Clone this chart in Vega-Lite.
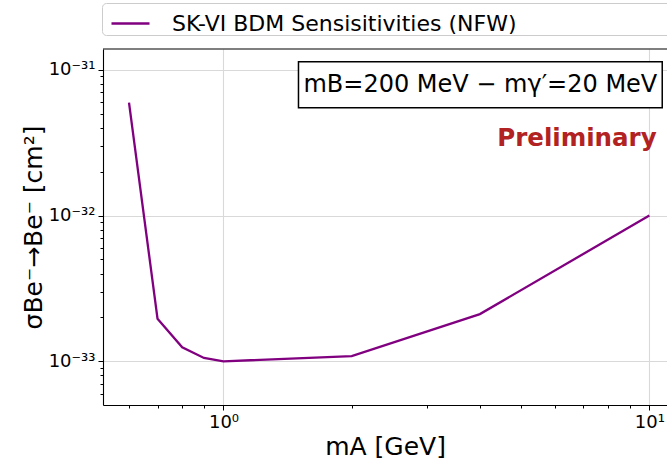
{
  "$schema": "https://vega.github.io/schema/vega-lite/v6.json",
  "autosize": "none",
  "width": 564,
  "height": 356,
  "padding": {"left": 103, "top": 49, "right": 0, "bottom": 60},
  "background": "white",
  "config": {
    "font": "DejaVu Sans",
    "view": {"stroke": null},
    "axis": {"labelFont": "DejaVu Sans", "titleFont": "DejaVu Sans", "labelColor": "black", "titleColor": "black", "domainColor": "black", "tickColor": "black", "titleFontWeight": "normal"}
  },
  "datasets": {
    "curve": [
      {"mA": 0.6, "sigma": 5.94e-32, "series": "SK-VI BDM Sensisitivities (NFW)"},
      {"mA": 0.7, "sigma": 1.96e-33, "series": "SK-VI BDM Sensisitivities (NFW)"},
      {"mA": 0.8, "sigma": 1.25e-33, "series": "SK-VI BDM Sensisitivities (NFW)"},
      {"mA": 0.9, "sigma": 1.055e-33, "series": "SK-VI BDM Sensisitivities (NFW)"},
      {"mA": 1.0, "sigma": 1.0e-33, "series": "SK-VI BDM Sensisitivities (NFW)"},
      {"mA": 2.0, "sigma": 1.087e-33, "series": "SK-VI BDM Sensisitivities (NFW)"},
      {"mA": 4.0, "sigma": 2.11e-33, "series": "SK-VI BDM Sensisitivities (NFW)"},
      {"mA": 10.0, "sigma": 1.0e-32, "series": "SK-VI BDM Sensisitivities (NFW)"}
    ]
  },
  "layer": [
    {
      "data": {"name": "curve"},
      "mark": {"type": "line", "strokeWidth": 2.3, "clip": true},
      "encoding": {
        "x": {
          "field": "mA", "type": "quantitative",
          "scale": {"type": "log", "domain": [0.5213, 11.0], "nice": false},
          "axis": {
            "title": "mA [GeV]",
            "titleFontSize": 25,
            "titlePadding": 3,
            "labelFontSize": 18,
            "labelPadding": 3,
            "values": [0.6, 0.7, 0.8, 0.9, 1, 2, 3, 4, 5, 6, 7, 8, 9, 10],
            "labelExpr": "abs(datum.value - 1) < 0.001 ? '10⁰' : abs(datum.value - 10) < 0.001 ? '10¹' : ''",
            "tickSize": {"condition": {"test": "abs(datum.value - 1) < 0.001 || abs(datum.value - 10) < 0.001", "value": 5}, "value": 3},
            "tickWidth": 1,
            "grid": true,
            "gridColor": "#d9d9d9",
            "gridWidth": 1.1,
            "gridOpacity": {"condition": {"test": "abs(datum.value - 1) < 0.001 || abs(datum.value - 10) < 0.001", "value": 1}, "value": 0},
            "domainWidth": 1.1
          }
        },
        "y": {
          "field": "sigma", "type": "quantitative",
          "scale": {"type": "log", "domain": [5.02e-34, 1.387e-31], "nice": false},
          "axis": {
            "title": "σBe⁻→Be⁻ [cm²]",
            "titleFontSize": 25,
            "titlePadding": 2,
            "labelFontSize": 18,
            "labelPadding": 3,
            "values": [6e-34, 7e-34, 8e-34, 9e-34, 1e-33, 2e-33, 3e-33, 4e-33, 5e-33, 6e-33, 7e-33, 8e-33, 9e-33, 1e-32, 2e-32, 3e-32, 4e-32, 5e-32, 6e-32, 7e-32, 8e-32, 9e-32, 1e-31],
            "labelExpr": "abs(log(datum.value)/LN10 - round(log(datum.value)/LN10)) > 0.01 ? '' : round(log(datum.value)/LN10) == -31 ? '10⁻³¹' : round(log(datum.value)/LN10) == -32 ? '10⁻³²' : '10⁻³³'",
            "tickSize": {"condition": {"test": "abs(log(datum.value)/LN10 - round(log(datum.value)/LN10)) < 0.01", "value": 5}, "value": 3},
            "tickWidth": 1,
            "grid": true,
            "gridColor": "#d9d9d9",
            "gridWidth": 1.1,
            "gridOpacity": {"condition": {"test": "abs(log(datum.value)/LN10 - round(log(datum.value)/LN10)) < 0.01", "value": 1}, "value": 0},
            "domainWidth": 1.1
          }
        },
        "color": {
          "field": "series", "type": "nominal",
          "scale": {"range": ["#800080"]},
          "legend": {
            "title": null,
            "orient": "none",
            "legendX": -1,
            "legendY": -46,
            "labelFont": "DejaVu Sans",
            "labelFontSize": 22,
            "labelColor": "black",
            "symbolType": "stroke",
            "symbolSize": 1444,
            "symbolStrokeWidth": 2.3,
            "symbolOffset": 8,
            "labelOffset": 21,
            "padding": 0,
            "strokeColor": "#cccccc",
            "fillColor": "white",
            "cornerRadius": 4,
            "labelLimit": 900,
            "labelExpr": "datum.label + '                              \u200b'"
          }
        }
      }
    },
    {
      "data": {"values": [{"label": "frame"}]},
      "mark": {"type": "rule", "color": "black", "strokeWidth": 1.1},
      "encoding": {
        "y": {"datum": 1.387e-31, "type": "quantitative"}
      }
    },
    {
      "data": {"values": [{"label": "mB=200 MeV − mγ′=20 MeV"}]},
      "mark": {"type": "rect", "fill": "white", "stroke": "black", "strokeWidth": 1.5},
      "encoding": {
        "x": {"datum": 1.5, "type": "quantitative"},
        "x2": {"datum": 10.72},
        "y": {"datum": 1.135e-31, "type": "quantitative"},
        "y2": {"datum": 5.49e-32}
      }
    },
    {
      "data": {"values": [{"label": "mB=200 MeV − mγ′=20 MeV"}]},
      "mark": {"type": "text", "fontSize": 24, "font": "DejaVu Sans", "color": "black", "align": "center", "baseline": "middle"},
      "encoding": {
        "x": {"datum": 4.01, "type": "quantitative"},
        "y": {"datum": 7.89e-32, "type": "quantitative"},
        "text": {"field": "label"}
      }
    },
    {
      "data": {"values": [{"label": "Preliminary"}]},
      "mark": {"type": "text", "fontSize": 24.5, "font": "DejaVu Sans", "fontWeight": "bold", "color": "#b22222", "align": "center", "baseline": "middle", "dy": 2},
      "encoding": {
        "x": {"datum": 6.76, "type": "quantitative"},
        "y": {"datum": 3.47e-32, "type": "quantitative"},
        "text": {"field": "label"}
      }
    }
  ]
}
